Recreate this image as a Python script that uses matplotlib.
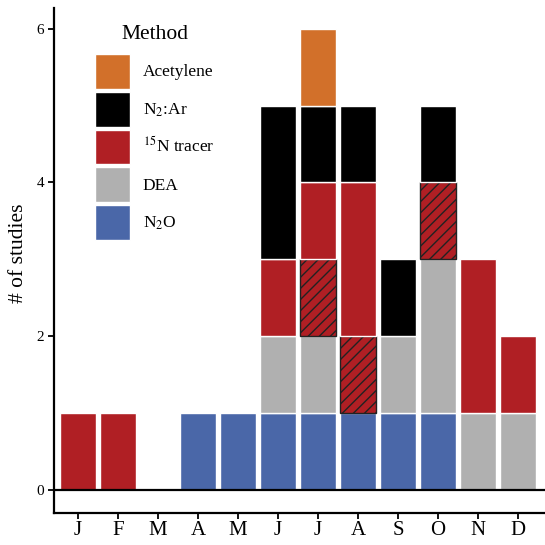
import numpy as np
import matplotlib.pyplot as plt
from matplotlib.patches import Patch

plt.rcParams['font.family'] = ['Liberation Serif', 'DejaVu Serif']
plt.rcParams['mathtext.fontset'] = 'stix'
plt.rcParams['hatch.linewidth'] = 1.0

months = ['J', 'F', 'M', 'A', 'M', 'J', 'J', 'A', 'S', 'O', 'N', 'D']

# counts per method, bottom to top of each stack
n2o = [0, 0, 0, 1, 1, 1, 1, 1, 1, 1, 0, 0]
dea = [0, 0, 0, 0, 0, 1, 1, 0, 1, 2, 1, 1]
n15_hatched = [0, 0, 0, 0, 0, 0, 1, 1, 0, 1, 0, 0]
n15 = [1, 1, 0, 0, 0, 1, 1, 2, 0, 0, 2, 1]
n2ar = [0, 0, 0, 0, 0, 2, 1, 1, 1, 1, 0, 0]
acetylene = [0, 0, 0, 0, 0, 0, 1, 0, 0, 0, 0, 0]

colors = {
    'Acetylene': '#D2702A',
    'N2Ar': '#000000',
    '15N': '#B01F24',
    'DEA': '#B0B0B0',
    'N2O': '#4A67A8',
}

fig = plt.figure(figsize=(5.45, 5.45), dpi=100)
ax = fig.add_axes([54 / 545, 1 - 513 / 545, 1 - 54 / 545, 505 / 545])

x = np.arange(1, len(months) + 1)
w = 0.9
bottom = np.zeros(len(months))

layers = [
    (n2o, colors['N2O'], None),
    (dea, colors['DEA'], None),
    (n15_hatched, colors['15N'], '///'),
    (n15, colors['15N'], None),
    (n2ar, colors['N2Ar'], None),
    (acetylene, colors['Acetylene'], None),
]
for vals, col, hatch in layers:
    vals = np.array(vals, dtype=float)
    mask = vals > 0
    if hatch:
        ax.bar(x[mask], vals[mask], w, bottom=bottom[mask], color=col,
               edgecolor='#222222', linewidth=1.0, hatch=hatch, zorder=2)
    else:
        ax.bar(x[mask], vals[mask], w, bottom=bottom[mask], color=col,
               edgecolor='white', linewidth=1.0, zorder=2)
    bottom += vals

ax.axhline(0, color='black', linewidth=1.6, zorder=3)

ax.set_xlim(0.4, 12.675)
ax.set_ylim(-0.3, 6.27)
ax.set_xticks(x)
ax.set_xticklabels(months, fontsize=15)
ax.set_yticks([0, 2, 4, 6])
ax.tick_params(axis='y', labelsize=11, length=4, width=1.3, pad=3)
ax.tick_params(axis='x', length=4, width=1.3, pad=2)
ax.set_ylabel('# of studies', fontsize=15.5)
ax.yaxis.set_label_coords(-0.052, 0.515)

for s in ['top', 'right']:
    ax.spines[s].set_visible(False)
for s in ['left', 'bottom']:
    ax.spines[s].set_linewidth(1.6)

handles = [
    Patch(facecolor=colors['Acetylene'], edgecolor='white', label='Acetylene'),
    Patch(facecolor=colors['N2Ar'], edgecolor='white', label='N$_2$:Ar'),
    Patch(facecolor=colors['15N'], edgecolor='white', label='$^{15}$N tracer'),
    Patch(facecolor=colors['DEA'], edgecolor='white', label='DEA'),
    Patch(facecolor=colors['N2O'], edgecolor='white', label='N$_2$O'),
]
leg = ax.legend(handles=handles, title='Method', loc='upper left',
                bbox_to_anchor=(95 / 545, 1 - 25 / 545),
                bbox_transform=fig.transFigure, frameon=False,
                fontsize=12.5, title_fontsize=15.5, handlelength=2.0,
                handleheight=2.72, labelspacing=0.17, handletextpad=0.75,
                borderpad=0, borderaxespad=0)
leg._legend_box.align = 'center'
leg._legend_box.sep = 7

fig.savefig('out.png', dpi=100)
